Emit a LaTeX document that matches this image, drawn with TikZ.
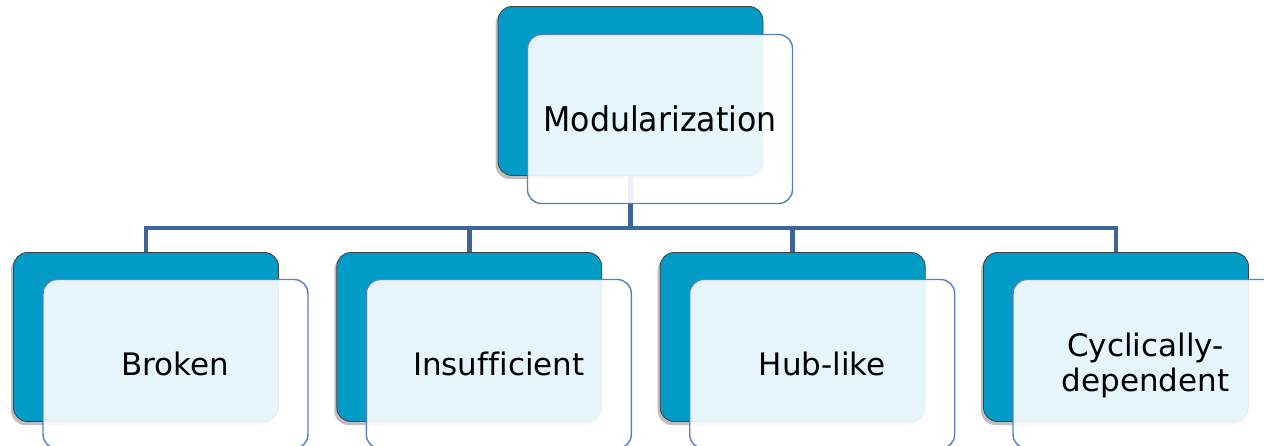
\documentclass[tikz,border=0pt]{standalone}
\usepackage{fontspec}
\newfontfamily\vfont[Ligatures={NoCommon}]{DejaVu Sans}
\usetikzlibrary{shadows}
\definecolor{boxteal}{RGB}{0,155,198}
\definecolor{edgeblue}{RGB}{84,130,192}
\definecolor{linkblue}{RGB}{62,101,153}
\begin{document}
\begin{tikzpicture}[x=1pt,y=-1pt,
  back/.style={draw=black!75, line width=0.8pt, fill=boxteal,
    rounded corners=14pt, minimum width=265pt, minimum height=169pt,
    inner sep=0pt,
    drop shadow={shadow xshift=-2.5pt, shadow yshift=-3.5pt, opacity=0.5}},
  front/.style={draw=edgeblue, line width=1.4pt, fill=white,
    fill opacity=0.9, text opacity=1, rounded corners=14pt,
    minimum width=265pt, minimum height=169pt, inner sep=0pt,
    font=\vfont\fontsize{31}{35}\selectfont, align=center},
  link/.style={draw=linkblue, line width=4.5pt}]
\clip (0,0) rectangle (1264,446);

% root
\node[back] (d0) at (630.5,91) {};
% children
\node[back] (d1) at (146,337) {};
\node[back] (d2) at (469.3,337) {};
\node[back] (d3) at (792.7,337) {};
\node[back] (d4) at (1116,337) {};

% connectors
\coordinate (bus) at (630.5,228);
\draw[link] (d1.north) |- (bus) -| (d4.north);
\draw[link] (d2.north) -- (d2.north |- bus);
\draw[link] (d3.north) -- (d3.north |- bus);
\draw[link] (d0.south) -- (bus);

% labelled front cards
\node[front, font=\vfont\fontsize{34}{38}\selectfont] (l0) at (660,119)
  {\scalebox{0.93}[1]{Modularization}};
\node[front] (l1) at (175.5,364) {Broken};
\node[front] (l2) at (498.8,364) {Insufficient};
\node[front] (l3) at (822.2,364) {Hub-like};
\node[front] (l4) at (1145.5,364)
  {\raisebox{-3pt}[\height][\depth]{\begin{tabular}{@{}c@{}}Cyclically-\\dependent\end{tabular}}};
\end{tikzpicture}
\end{document}
